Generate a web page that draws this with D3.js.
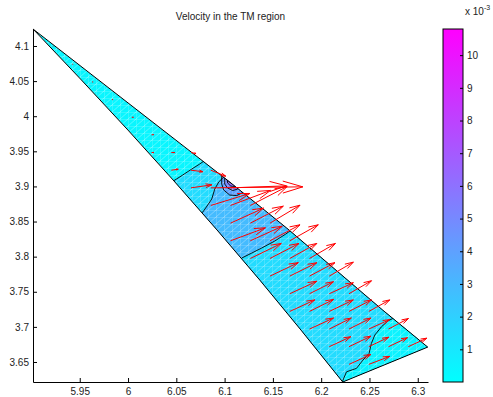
<!DOCTYPE html>
<html>
<head>
<meta charset="utf-8">
<script src="https://cdn.jsdelivr.net/npm/d3@7"></script>
<style>
  html, body { margin: 0; padding: 0; background: #fff; }
  svg { display: block; font-family: "Liberation Sans", Arial, Helvetica, sans-serif; }
</style>
</head>
<body>
<svg id="chart" width="493" height="397"></svg>
<script>
// ---- axes ----
const xDomain = [5.9016, 6.3106];
const yDomain = [3.6215, 4.1242];
const xTicks = [5.95, 6, 6.05, 6.1, 6.15, 6.2, 6.25, 6.3];
const yTicks = [3.65, 3.7, 3.75, 3.8, 3.85, 3.9, 3.95, 4, 4.05, 4.1];
const titleText = "Velocity in the TM region";

// ---- colour bar (values in units of 1e-3) ----
const cDomain = [0, 10.8];
const cTicks = [1, 2, 3, 4, 5, 6, 7, 8, 9, 10];

// ---- TM region boundary ----
const upperEdge = [[5.9016, 4.1242], [6.1053, 3.9063], [6.1643, 3.8407], [6.2637, 3.7239], [6.3103, 3.6712]];
const lowerEdge = [[6.2223, 3.6215], [6.1791, 3.6954], [6.1364, 3.7667], [6.0922, 3.8379], [6.0467, 3.9091], [5.9999, 3.9803], [5.9517, 4.0516]];

// ---- iso-velocity lines crossing the region (lower edge -> upper edge) ----
const contour1 = [[6.0453, 3.9063], [6.0566, 3.9162], [6.0660, 3.9248], [6.0742, 3.9319], [6.0815, 3.9390]];
const contour2 = [[6.0732, 3.8578], [6.0774, 3.8635], [6.0825, 3.8735], [6.0867, 3.8821], [6.0898, 3.8963], [6.0939, 3.9063], [6.0981, 3.9120], [6.1012, 3.9162]];
const contour3 = [[6.1136, 3.7923], [6.1177, 3.7980], [6.1281, 3.8051], [6.1384, 3.8123], [6.1519, 3.8222], [6.1633, 3.8322], [6.1705, 3.8393]];
const contour4 = [[6.2203, 3.6185], [6.2226, 3.6242], [6.2262, 3.6360], [6.2365, 3.6409], [6.2433, 3.6527], [6.2496, 3.6622], [6.2520, 3.6765], [6.2555, 3.6883], [6.2624, 3.7001], [6.2693, 3.7087], [6.2744, 3.7121], [6.2803, 3.7168]];
// speed (1e-3) inside the region, then on the far side of each line above
const baseSpeed = 0.4;
const bandSpeeds = [1.5, 2.9, 1.5, 0.5];

// ---- closed iso-lines around the corner singularity ----
const loop4 = [[6.0970, 3.9177], [6.0970, 3.9034], [6.0991, 3.8949], [6.1053, 3.8877], [6.1126, 3.8870], [6.1177, 3.8906], [6.1229, 3.8977]];
const loop5 = [[6.1001, 3.9162], [6.1001, 3.9034], [6.1032, 3.8977], [6.1084, 3.8942], [6.1136, 3.8963], [6.1177, 3.9020]];
const loop6 = [[6.1022, 3.9134], [6.1032, 3.9048], [6.1063, 3.9006], [6.1105, 3.8999], [6.1136, 3.9048]];
const loop8 = [[6.1038, 3.9120], [6.1048, 3.9063], [6.1074, 3.9041], [6.1105, 3.9077]];
const loopSpeeds = [4, 5, 6, 8];

// ---- velocity vectors: positions and components (components in 1e-3 axis units) ----
const qx = [5.9221, 5.9425, 5.9630, 5.9834, 6.0039, 6.0243, 6.0243, 6.0448, 6.0652, 6.0448, 6.0652, 6.0857,
            6.0652, 6.0857, 6.1061, 6.0857, 6.1061, 6.1266, 6.1061, 6.1266, 6.1470, 6.1061, 6.1266, 6.1470,
            6.1675, 6.1266, 6.1470, 6.1675, 6.1879, 6.1470, 6.1675, 6.1879, 6.2084, 6.1675, 6.1879, 6.2084,
            6.2288, 6.1675, 6.1879, 6.2084, 6.2288, 6.2493, 6.1879, 6.2084, 6.2288, 6.2493, 6.2697, 6.2084,
            6.2288, 6.2493, 6.2697, 6.2902, 6.2288, 6.2493];
const qy = [4.0991, 4.0739, 4.0488, 4.0237, 3.9985, 3.9734, 3.9483, 3.9483, 3.9483, 3.9231, 3.9231, 3.9231,
            3.8980, 3.8980, 3.8980, 3.8729, 3.8729, 3.8729, 3.8477, 3.8477, 3.8477, 3.8226, 3.8226, 3.8226,
            3.8226, 3.7974, 3.7974, 3.7974, 3.7974, 3.7723, 3.7723, 3.7723, 3.7723, 3.7472, 3.7472, 3.7472,
            3.7472, 3.7220, 3.7220, 3.7220, 3.7220, 3.7220, 3.6969, 3.6969, 3.6969, 3.6969, 3.6969, 3.6718,
            3.6718, 3.6718, 3.6718, 3.6718, 3.6466, 3.6466];
const qu = [0.3, 0.6, 0.8, 1.0, 1.6, 2.1, 2.6, 3.6, 5.2, 7.2, 12.4, 15.5,
            21.7, 95.3, 58.0, 40.4, 41.4, 38.3, 34.2, 34.2, 31.1, 36.2, 33.1, 31.1,
            29.5, 32.1, 30.0, 28.0, 26.9, 29.3, 28.0, 26.4, 24.9, 28.0, 24.9, 24.9,
            23.3, 25.9, 24.9, 24.9, 23.3, 21.7, 24.9, 22.8, 22.8, 21.7, 20.7, 22.3,
            22.8, 20.7, 19.7, 19.2, 22.8, 21.7];
const qv = [0, 0, 0, 0, 0, 0.4, 0, 0, -1.4, 1.4, -2.1, -8.5,
            4.3, 1.4, 2.8, 17.1, 21.4, 27.1, 21.4, 24.2, 25.6, 18.5, 20.7, 22.8,
            22.8, 21.4, 21.4, 21.4, 21.4, 19.2, 19.1, 19.2, 19.9, 17.8, 17.1, 15.7,
            18.5, 16.4, 17.1, 16.4, 16.4, 16.4, 15.7, 15.7, 15.7, 13.5, 15.0, 14.2,
            15.0, 13.5, 12.8, 12.1, 14.2, 11.4];
const quiverUnit = 1e-3;

// ---- layout ----
const plot = { left: 33, right: 428, top: 29, bottom: 382 };
const bar = { left: 443, right: 463 };

const svg = d3.select("#chart");
const x = d3.scaleLinear().domain(xDomain).range([plot.left, plot.right]);
const y = d3.scaleLinear().domain(yDomain).range([plot.bottom, plot.top]);
const c = d3.scaleLinear().domain(cDomain).range([plot.bottom, plot.top]);
const t = d3.scaleLinear().domain(cDomain).range([0, 1]).clamp(true);
// MATLAB "cool" colormap
const cool = v => { const k = t(v); return d3.rgb(255 * k, 255 * (1 - k), 255).toString(); };

const line = d3.line().x(d => x(d[0])).y(d => y(d[1]));
const region = upperEdge.concat(lowerEdge);
const corners = [[xDomain[1], yDomain[1]], [xDomain[1], yDomain[0]], [xDomain[0], yDomain[0]]];

const defs = svg.append("defs");
defs.append("clipPath").attr("id", "regionClip")
  .append("path").attr("d", line(region) + "Z");

// light triangular mesh drawn over the shaded field
const mesh = defs.append("pattern").attr("id", "mesh")
  .attr("patternUnits", "userSpaceOnUse").attr("width", 8).attr("height", 7);
mesh.append("path").attr("d", "M0,0H8M0,0V7M0,7L8,0")
  .attr("stroke", "#fff").attr("stroke-opacity", 0.45).attr("stroke-width", 0.7).attr("fill", "none");

const grad = defs.append("linearGradient").attr("id", "coolGrad")
  .attr("x1", 0).attr("y1", 1).attr("x2", 0).attr("y2", 0);
grad.append("stop").attr("offset", "0%").attr("stop-color", "rgb(0,255,255)");
grad.append("stop").attr("offset", "100%").attr("stop-color", "rgb(255,0,255)");

// ---- shaded field ----
const field = svg.append("g").attr("clip-path", "url(#regionClip)");
field.append("path").attr("d", line(region) + "Z").attr("fill", cool(baseSpeed));

const crossing = [contour1, contour2, contour3, contour4];
crossing.forEach((pts, k) => {
  field.append("path").attr("d", line(pts.concat(corners)) + "Z")
    .attr("fill", cool(bandSpeeds[k]));
});
const loops = [loop4, loop5, loop6, loop8];
loops.forEach((pts, k) => {
  field.append("path").attr("d", line(pts) + "Z").attr("fill", cool(loopSpeeds[k]));
});
field.append("rect").attr("x", plot.left).attr("y", plot.top)
  .attr("width", plot.right - plot.left).attr("height", plot.bottom - plot.top)
  .attr("fill", "url(#mesh)");

crossing.forEach(pts => {
  field.append("path").attr("d", line(pts)).attr("fill", "none")
    .attr("stroke", "#000").attr("stroke-width", 0.9);
});
loops.forEach(pts => {
  field.append("path").attr("d", line(pts) + "Z").attr("fill", "none")
    .attr("stroke", "#000").attr("stroke-width", 0.9);
});

svg.append("path").attr("d", line(region) + "Z")
  .attr("fill", "none").attr("stroke", "#000").attr("stroke-width", 1);

// ---- quiver ----
const alpha = 0.3, beta = 0.3, maxHead = 20;
const arrows = svg.append("g").attr("fill", "none").attr("stroke", "#ff0000").attr("stroke-width", 1);
qx.forEach((_, i) => {
  const x0 = x(qx[i]), y0 = y(qy[i]);
  const x1 = x(qx[i] + qu[i] * quiverUnit), y1 = y(qy[i] + qv[i] * quiverUnit);
  const dx = x1 - x0, dy = y1 - y0;
  const len = Math.hypot(dx, dy);
  const a = Math.min(alpha, maxHead / Math.max(len, 1e-6));
  const b1 = [x1 - a * (dx + beta * dy), y1 - a * (dy - beta * dx)];
  const b2 = [x1 - a * (dx - beta * dy), y1 - a * (dy + beta * dx)];
  arrows.append("path")
    .attr("d", `M${x0},${y0}L${x1},${y1}M${b1[0]},${b1[1]}L${x1},${y1}L${b2[0]},${b2[1]}`);
});

// ---- axes ----
const axisStyle = g => {
  g.selectAll("text").attr("fill", "#222").style("font-size", "10px")
    .style("font-family", '"Liberation Sans", Arial, Helvetica, sans-serif');
  g.selectAll("line, path").attr("stroke", "#000");
};
svg.append("g").attr("transform", `translate(0,${plot.bottom})`)
  .call(d3.axisBottom(x).tickValues(xTicks).tickSize(-4).tickSizeOuter(0).tickPadding(6).tickFormat(d3.format("")))
  .call(axisStyle);
svg.append("g").attr("transform", `translate(${plot.left},0)`)
  .call(d3.axisLeft(y).tickValues(yTicks).tickSize(-4).tickSizeOuter(0).tickPadding(4).tickFormat(d3.format("")))
  .call(axisStyle);

svg.append("text").attr("x", (plot.left + plot.right) / 2).attr("y", 20)
  .attr("text-anchor", "middle").attr("fill", "#222").style("font-size", "10px").text(titleText);

// ---- colour bar ----
svg.append("rect").attr("x", bar.left).attr("y", plot.top)
  .attr("width", bar.right - bar.left).attr("height", plot.bottom - plot.top)
  .attr("fill", "url(#coolGrad)").attr("stroke", "#000").attr("stroke-width", 1);
const cAxis = svg.append("g").attr("transform", `translate(${bar.right},0)`)
  .call(d3.axisRight(c).tickValues(cTicks).tickSize(-3).tickPadding(4).tickFormat(d3.format("d")))
  .call(axisStyle);
cAxis.select(".domain").remove();

const expo = svg.append("text").attr("x", 465).attr("y", 15).attr("fill", "#222").style("font-size", "10px");
expo.append("tspan").text("x 10");
expo.append("tspan").attr("dy", -5).style("font-size", "7px").text("-3");
</script>
</body>
</html>
